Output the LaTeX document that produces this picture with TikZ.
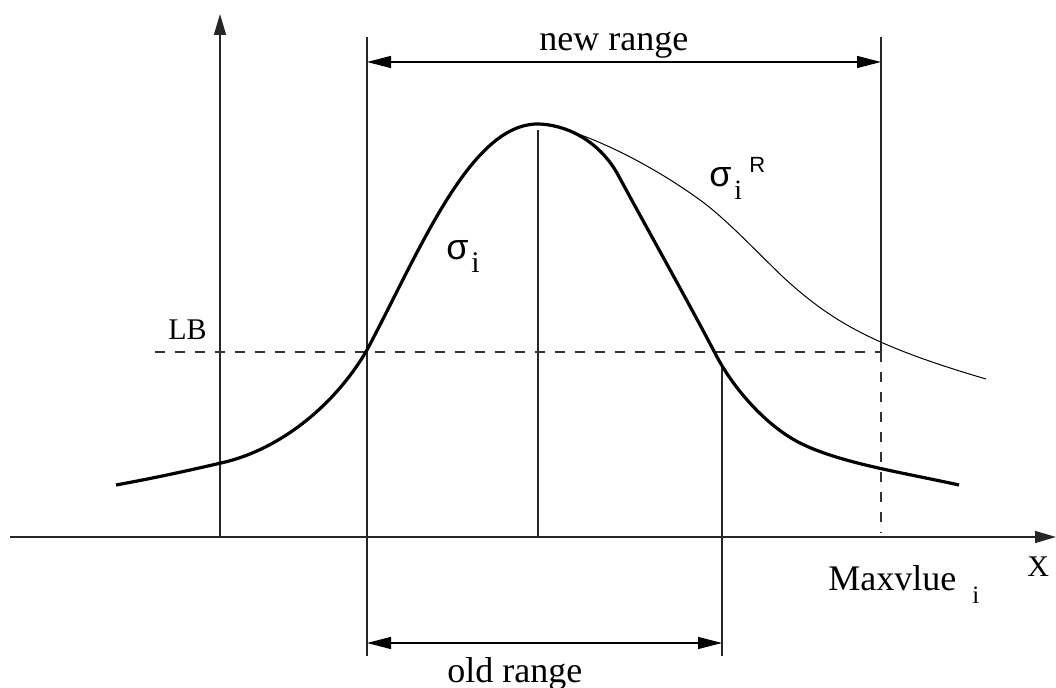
\documentclass[tikz,border=0pt]{standalone}
\usepackage{fontspec}
\setmainfont{Liberation Serif}
\newfontfamily\sansgr{Liberation Sans}
\usetikzlibrary{arrows.meta}
\tikzset{
  axisline/.style={line width=0.8pt, draw=black!85},
  guide/.style={line width=0.6pt, draw=black!85},
  dashguide/.style={line width=0.6pt, draw=black!80, dash pattern=on 5pt off 5pt},
  boldcurve/.style={line width=1.6pt, line join=round},
  thincurve/.style={line width=0.5pt},
  bigtip/.style={-{Triangle[length=10.5pt,width=6pt]}},
  dimarrow/.style={line width=0.6pt, {Triangle[length=12pt,width=6pt]}-{Triangle[length=12pt,width=6pt]}},
  lbl/.style={inner sep=0pt, anchor=base west, font=\fontsize{18}{20}\selectfont},
}
\begin{document}
\begin{tikzpicture}[x=0.5pt,y=-0.5pt]
\useasboundingbox (0,0) rectangle (1056,688);
% coordinates
\coordinate (yb) at (220,537);
\coordinate (yt) at (220,14);
\coordinate (xl) at (10,537);
\coordinate (xr) at (1056,537);
\coordinate (nlt) at (367,37);
\coordinate (nlb) at (367,656);
\coordinate (nrt) at (881,37);
\coordinate (nrm) at (881,352);
\coordinate (nrb) at (881,533);
\coordinate (mt) at (538,130);
\coordinate (mb) at (538,537);
\coordinate (ort) at (722,365);
\coordinate (orb) at (722,656);
\coordinate (lbl) at (155,352);
\coordinate (na1) at (367,62);
\coordinate (na2) at (881,62);
\coordinate (oa1) at (367,643);
\coordinate (oa2) at (722,643);
% axes
\draw[axisline,bigtip] (yb) -- (yt);
\draw[axisline,bigtip] (xl) -- (xr);
% guides
\draw[guide] (nlt) -- (nlb);
\draw[guide] (nrt) -- (nrm);
\draw[dashguide] (nrm) -- (nrb);
\draw[guide] (mt) -- (mb);
\draw[guide] (ort) -- (orb);
\draw[dashguide] (lbl) -- (nrm);
% range arrows
\draw[dimarrow] (na1) -- (na2);
\draw[dimarrow] (oa1) -- (oa2);
% bold curve sigma_i
\draw[boldcurve] (116,485) .. controls (160,477) and (195,469) .. (221,463)
  .. controls (280,450) and (335,405) .. (367,350)
  .. controls (420,250) and (470,125) .. (537,124)
  .. controls (565,124) and (598,140) .. (617,173)
  .. controls (650,234) and (690,305) .. (717,357)
  .. controls (737,394) and (770,428) .. (800,443)
  .. controls (840,463) and (900,472) .. (959,485);
% thin curve sigma_i^R
\draw[thincurve] (537,124) .. controls (575,127) and (645,160) .. (700,200)
  .. controls (725,218) and (755,250) .. (783,277)
  .. controls (830,320) and (870,345) .. (986,379);
% labels
\node[lbl] (tnew) at (539,51) {new range};
\node[lbl] (told) at (447,683) {old range};
\node[lbl, font=\fontsize{15}{17}\selectfont] (tlb) at (168,340) {LB};
\node[lbl] (tmax) at (828,591) {Maxvlue};
\node[lbl, font=\fontsize{12.5}{14}\selectfont] (tmaxi) at (972,604) {i};
\node[lbl, font=\fontsize{15}{17}\selectfont] (tx) at (1027,577) {X};
\node[lbl, font=\sansgr\fontsize{18}{20}\selectfont] (s1) at (446,260) {σ};
\node[lbl, font=\fontsize{15}{17}\selectfont] (s1i) at (471,273) {i};
\node[lbl, font=\sansgr\fontsize{18}{20}\selectfont] (s2) at (709,187) {σ};
\node[lbl, font=\fontsize{14}{16}\selectfont] (s2i) at (734,200) {i};
\node[lbl, font=\sansgr\fontsize{11}{13}\selectfont] (s2r) at (749,173) {R};
\end{tikzpicture}
\end{document}
